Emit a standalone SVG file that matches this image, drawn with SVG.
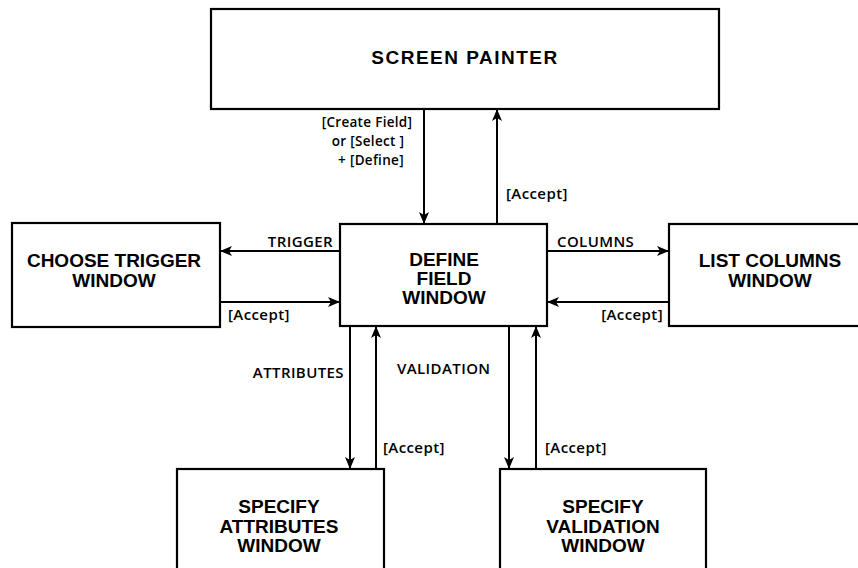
<svg xmlns="http://www.w3.org/2000/svg" width="858" height="568" viewBox="0 0 858 568">
<defs>
<marker id="ah" markerWidth="12" markerHeight="10" refX="11" refY="5" orient="auto" markerUnits="userSpaceOnUse">
<path d="M0,0 L12,5 L0,10 L3,5 Z" fill="#000"/>
</marker>
<style>
.box{fill:#fff;stroke:#000;stroke-width:2.2}
.t{font-family:"Liberation Sans",Arial,sans-serif;font-weight:bold;font-size:19px;text-anchor:middle;fill:#000}
.l{font-family:"Open Sans","Liberation Sans",sans-serif;font-weight:600;font-size:15px;letter-spacing:0.4px;fill:#000}
.s{font-size:13.5px;letter-spacing:0.3px;text-anchor:middle}
.c{stroke:#000;stroke-width:2;fill:none;marker-end:url(#ah)}
</style>
</defs>
<rect width="858" height="568" fill="#fff"/>
<g id="connectors">
<line class="c" x1="424" y1="109" x2="424" y2="223"/>
<line class="c" x1="497" y1="224" x2="497" y2="110"/>
<line class="c" x1="340" y1="251" x2="221" y2="251"/>
<line class="c" x1="221" y1="302" x2="339" y2="302"/>
<line class="c" x1="547" y1="251" x2="668" y2="251"/>
<line class="c" x1="669" y1="302" x2="548" y2="302"/>
<line class="c" x1="350" y1="326" x2="350" y2="468"/>
<line class="c" x1="376" y1="469" x2="376" y2="327"/>
<line class="c" x1="509" y1="326" x2="509" y2="468"/>
<line class="c" x1="536" y1="469" x2="536" y2="327"/>
</g>
<g id="labels">
<text class="l s" x="367" y="127">[Create Field]</text>
<text class="l s" x="368" y="146">or [Select ]</text>
<text class="l s" x="371" y="165">+ [Define]</text>
<text class="l" x="506" y="199">[Accept]</text>
<text class="l" x="333" y="247" text-anchor="end">TRIGGER</text>
<text class="l" x="228" y="320">[Accept]</text>
<text class="l" x="557" y="247">COLUMNS</text>
<text class="l" x="663" y="320" text-anchor="end">[Accept]</text>
<text class="l" x="344" y="378" text-anchor="end">ATTRIBUTES</text>
<text class="l" x="397" y="374">VALIDATION</text>
<text class="l" x="383" y="453">[Accept]</text>
<text class="l" x="545" y="453">[Accept]</text>
</g>
<g id="screen-painter">
<rect class="box" x="211" y="9" width="508" height="100"/>
<text class="t" x="465" y="64" font-size="20" letter-spacing="1.5">SCREEN PAINTER</text>
</g>
<g id="choose-trigger">
<rect class="box" x="12" y="223" width="208" height="104"/>
<text class="t" x="114" y="267">CHOOSE TRIGGER</text>
<text class="t" x="114" y="287">WINDOW</text>
</g>
<g id="define-field">
<rect class="box" x="340" y="224" width="207" height="102"/>
<text class="t" x="444" y="266" font-size="18">DEFINE</text>
<text class="t" x="444" y="285" font-size="18">FIELD</text>
<text class="t" x="444" y="304" font-size="18">WINDOW</text>
</g>
<g id="list-columns">
<rect class="box" x="669" y="224" width="200" height="102"/>
<text class="t" x="770" y="267">LIST COLUMNS</text>
<text class="t" x="770" y="287">WINDOW</text>
</g>
<g id="specify-attributes">
<rect class="box" x="177" y="469" width="207" height="110"/>
<text class="t" x="279" y="513">SPECIFY</text>
<text class="t" x="279" y="533">ATTRIBUTES</text>
<text class="t" x="279" y="552">WINDOW</text>
</g>
<g id="specify-validation">
<rect class="box" x="500" y="469" width="206" height="110"/>
<text class="t" x="603" y="513">SPECIFY</text>
<text class="t" x="603" y="533">VALIDATION</text>
<text class="t" x="603" y="552">WINDOW</text>
</g>
</svg>
